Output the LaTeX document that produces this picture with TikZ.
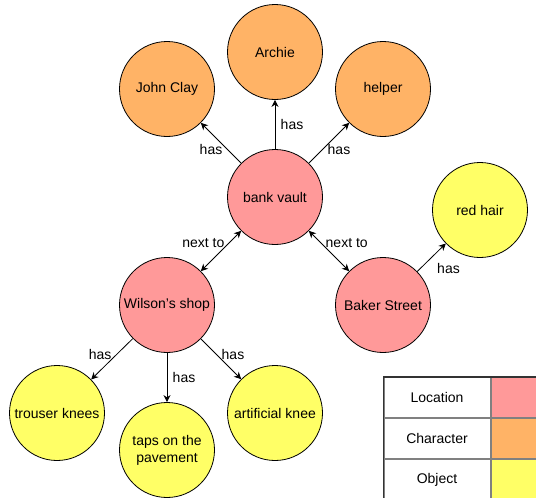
\documentclass[tikz,border=0pt]{standalone}
\usepackage{fontspec}
\setmainfont{Liberation Sans}
\usetikzlibrary{arrows.meta}

\definecolor{location}{HTML}{FF9999}
\definecolor{character}{HTML}{FFB366}
\definecolor{object}{HTML}{FFFF66}

\begin{document}
\begin{tikzpicture}[x=1pt, y=-1pt,
  every node/.style={font=\fontsize{14}{17}\selectfont},
  thing/.style={circle, draw, line width=0.8pt, minimum size=95pt, inner sep=1pt, align=center},
  loc/.style={thing, fill=location},
  char/.style={thing, fill=character},
  obj/.style={thing, fill=object},
  rel/.style={-{Stealth[length=7pt,width=7pt]}, line width=0.8pt},
  birel/.style={{Stealth[length=7pt,width=7pt]}-{Stealth[length=7pt,width=7pt]}, line width=0.8pt},
  cell/.style={draw=gray, line width=1pt, minimum width=106pt, minimum height=40pt, inner sep=0pt}]

  \useasboundingbox (0,0) rectangle (536,498);

  \node[loc] (vault) at (275,197) {bank vault};
  \node[loc] (wilson) at (167,305) {Wilson's shop};
  \node[loc] (baker) at (383,305) {Baker Street};

  \node[char] (clay) at (167,89) {John Clay};
  \node[char] (archie) at (275,52) {Archie};
  \node[char] (helper) at (383,89) {helper};

  \node[obj] (hair) at (480,210) {red hair};
  \node[obj] (trouser) at (57,413) {trouser knees};
  \node[obj] (taps) at (167,450) {taps on the\\pavement};
  \node[obj] (knee) at (275,413) {artificial knee};

  \draw[rel] (vault) -- node[pos=0.35, left=1pt] {has} (clay);
  \draw[rel] (vault) -- node[right=2pt] {has} (archie);
  \draw[rel] (vault) -- node[pos=0.35, right=1pt] {has} (helper);
  \draw[birel] (vault) -- node[pos=0.3, left=1pt] {next to} (wilson);
  \draw[birel] (vault) -- node[pos=0.3, right=1pt] {next to} (baker);
  \draw[rel] (baker) -- node[pos=0.5, below right=2pt] {has} (hair);
  \draw[rel] (wilson) -- node[pos=0.4, left=1pt] {has} (trouser);
  \draw[rel] (wilson) -- node[right=2pt] {has} (taps);
  \draw[rel] (wilson) -- node[pos=0.4, right=1pt] {has} (knee);

  % legend
  \node[cell, fill=white] (keyloc) at (437,397.5) {Location};
  \node[cell, fill=white, anchor=north] (keychar) at (keyloc.south) {Character};
  \node[cell, fill=white, anchor=north] (keyobj) at (keychar.south) {Object};
  \node[cell, fill=location, minimum width=46pt, anchor=west] (colloc) at (keyloc.east) {};
  \node[cell, fill=character, minimum width=46pt, anchor=west] (colchar) at (keychar.east) {};
  \node[cell, fill=object, minimum width=46pt, anchor=west] (colobj) at (keyobj.east) {};
  \draw[line width=1.5pt, draw=black!80] (keyloc.north west) rectangle (colobj.south east);
\end{tikzpicture}
\end{document}
